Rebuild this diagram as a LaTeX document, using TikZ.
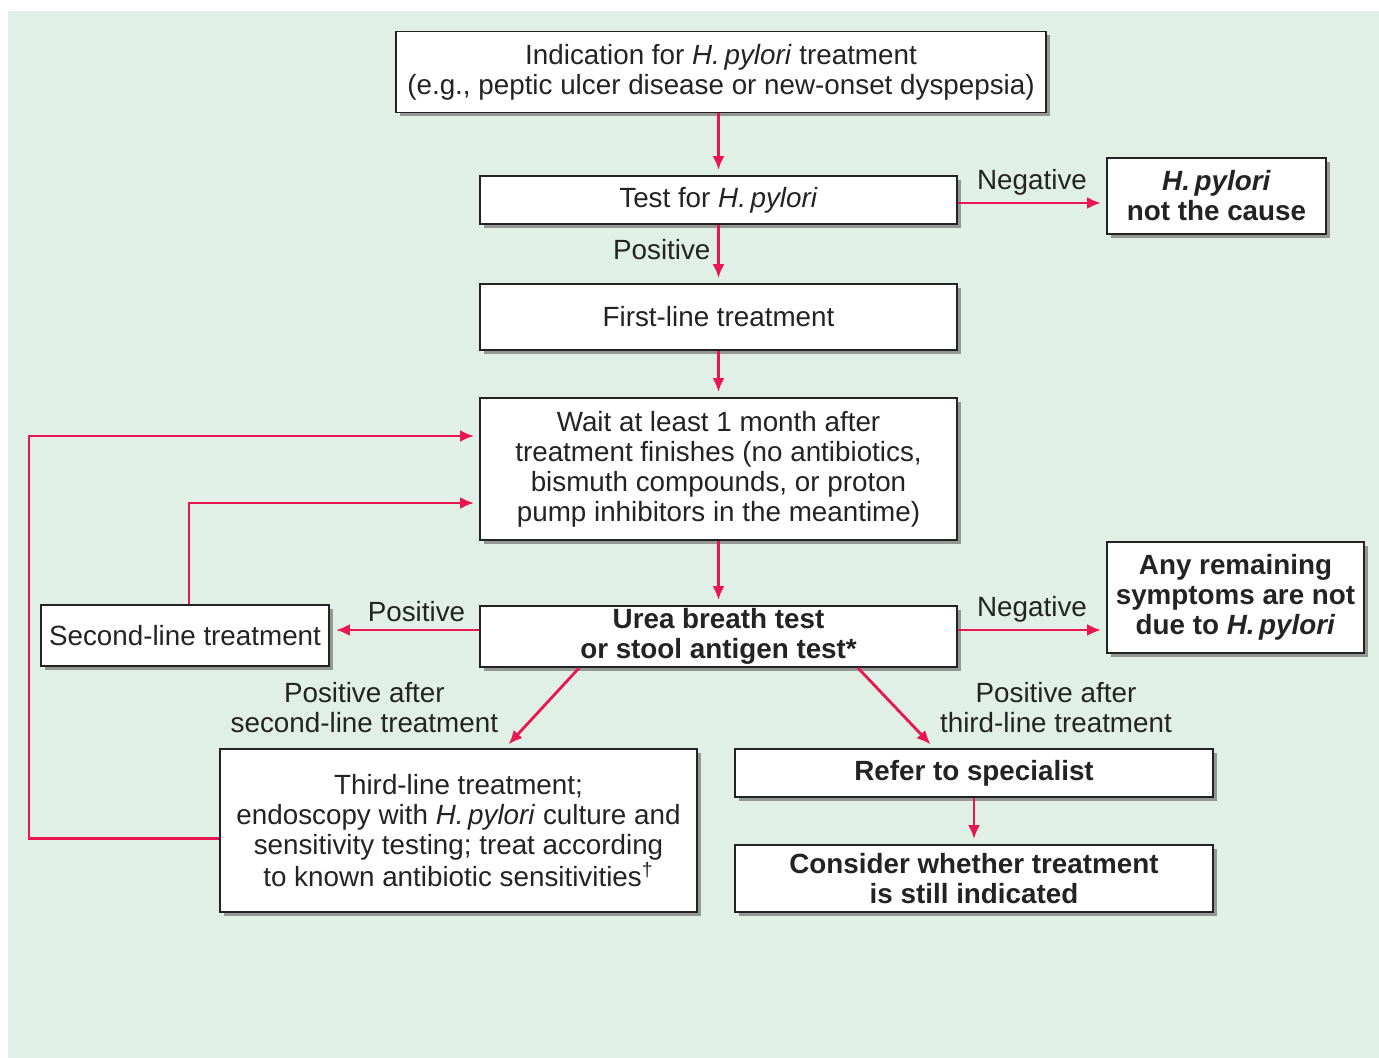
\documentclass[tikz,border=0pt]{standalone}
\usepackage{fontspec}
\setmainfont{Liberation Sans}
\usetikzlibrary{arrows.meta,shadows}
\definecolor{mintbg}{RGB}{224,240,230}
\definecolor{flowred}{RGB}{232,22,82}
\definecolor{inkgray}{RGB}{35,35,35}

\begin{document}
\begin{tikzpicture}[x=0.5pt,y=-0.5pt,
  box/.style={draw=inkgray,line width=0.9pt,fill=white,align=center,inner sep=0pt,
    text=inkgray,font=\fontsize{13.9}{15}\selectfont,
    drop shadow={shadow xshift=2pt,shadow yshift=-2pt,fill=black!55,opacity=0.7}},
  flow/.style={draw=flowred,line width=1.4pt,-{Latex[length=7pt,width=6pt]},shorten >=2.5pt},
  lbl/.style={text=inkgray,font=\fontsize{13.9}{15}\selectfont,align=center}]
  \useasboundingbox (0,0) rectangle (1379,1058);
  \fill[mintbg] (8,11) rectangle (1379,1058);

  \node[box,minimum width=325pt,minimum height=40.5pt] (ind) at (721,72)
    {Indication for \textit{H.\,pylori} treatment\\(e.g., peptic ulcer disease or new-onset dyspepsia)};
  \node[box,minimum width=238.5pt,minimum height=24pt] (test) at (718.5,200)
    {Test for \textit{H.\,pylori}};
  \node[box,minimum width=109.5pt,minimum height=38pt,font=\fontsize{13.9}{15}\selectfont\bfseries] (notcause) at (1216.5,196)
    {\textit{H.\,pylori}\\not the cause};
  \node[box,minimum width=238.5pt,minimum height=33pt] (first) at (718.5,317)
    {First-line treatment};
  \node[box,minimum width=238.5pt,minimum height=71pt] (wait) at (718.5,469)
    {Wait at least 1 month after\\treatment finishes (no antibiotics,\\bismuth compounds, or proton\\pump inhibitors in the meantime)};
  \node[box,minimum width=238.5pt,minimum height=30.5pt,font=\fontsize{13.9}{15}\selectfont\bfseries] (urea) at (718.5,636.5)
    {Urea breath test\\or stool antigen test*};
  \node[box,minimum width=144pt,minimum height=30.5pt] (second) at (185,635.5)
    {Second-line treatment};
  \node[box,minimum width=128.5pt,minimum height=55.5pt,font=\fontsize{13.9}{15}\selectfont\bfseries] (remain) at (1235.5,597.5)
    {Any remaining\\symptoms are not\\due to \textit{H.\,pylori}};
  \node[box,minimum width=238.5pt,minimum height=81.5pt] (third) at (458.5,830.5)
    {Third-line treatment;\\endoscopy with \textit{H.\,pylori} culture and\\sensitivity testing; treat according\\to known antibiotic sensitivities\textsuperscript{†}};
  \node[box,minimum width=239pt,minimum height=24pt,font=\fontsize{13.9}{15}\selectfont\bfseries] (refer) at (974,773)
    {Refer to specialist};
  \node[box,minimum width=239pt,minimum height=33.5pt,font=\fontsize{13.9}{15}\selectfont\bfseries] (consider) at (974,878.5)
    {Consider whether treatment\\is still indicated};
  \coordinate (loop) at (29,640);

  \draw[flow] (ind.south -| test) -- (test.north);
  \draw[flow] ([yshift=-1.5pt]test.east) -- ([yshift=-1.5pt]test.east -| notcause.west)
    node[lbl,midway,above] {Negative};
  \draw[flow] (test.south) -- (first.north) node[lbl,midway,left,yshift=2pt] {Positive};
  \draw[flow] (first.south) -- (wait.north);
  \draw[flow] (wait.south) -- (urea.north);
  \draw[flow,shorten >=3pt] ([yshift=3.25pt]urea.west) -- ([yshift=3.25pt]urea.west -| second.east)
    node[lbl,midway,above,xshift=6pt] {Positive};
  \draw[flow] ([yshift=3.25pt]urea.east) -- ([yshift=3.25pt]urea.east -| remain.west)
    node[lbl,midway,above] {Negative};
  \draw[flow] ([xshift=2pt]second.north) |- ([yshift=-17pt]wait.west);
  \draw[flow] ([yshift=-4pt]third.west) -| (loop) |- ([yshift=16.5pt]wait.west);
  \draw[flow] ([xshift=50pt]urea.south west) -- ([xshift=143pt]third.north west)
    node[lbl,midway,left=18pt] {Positive after\\second-line treatment};
  \draw[flow] ([xshift=-50pt]urea.south east) -- ([xshift=100pt]refer.north west)
    node[lbl,midway,right=18pt] {Positive after\\third-line treatment};
  \draw[flow] (refer.south) -- (consider.north);
\end{tikzpicture}
\end{document}
